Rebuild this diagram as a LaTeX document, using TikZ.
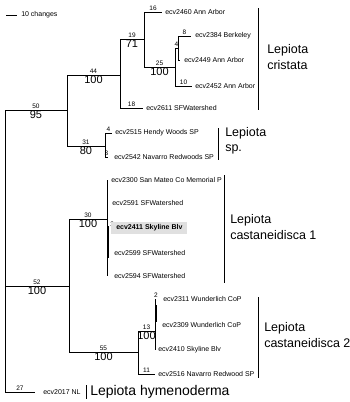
\documentclass[tikz,border=0pt]{standalone}
\usepackage{fontspec}
\setmainfont{Liberation Sans}
\usetikzlibrary{positioning}

\begin{document}
\begin{tikzpicture}[x=1pt, y=-1pt, line width=0.5pt,
    blen/.style={font=\fontsize{6.5}{7}\selectfont, inner sep=1pt},
    boot/.style={font=\fontsize{11}{12}\selectfont, inner sep=1pt},
    tip/.style={font=\fontsize{7}{8}\selectfont, inner sep=0pt},
    clade/.style={font=\fontsize{12.5}{15.5}\selectfont, align=left, anchor=west, inner sep=0pt},
    bar/.style={line width=0.7pt}]
    % Khung hình
    \useasboundingbox (0,0) rectangle (350,402);

    % 1. Thang đo
    \coordinate (s1) at (6,15);
    \coordinate (s2) at (17,15);
    \draw (s1) -- (s2);
    \node[tip, right=4pt of s2] (scale) {10 changes};

    % 2. Các nút trong của cây
    \coordinate (root) at (5,250);
    \coordinate (n50) at (67,110);
    \coordinate (n44) at (120,75);
    \coordinate (n19) at (144,39);
    \coordinate (n25) at (175,67);
    \coordinate (n4) at (178,48);
    \coordinate (n31) at (105,146);
    \coordinate (n52) at (69,286);
    \coordinate (n30) at (107,219);
    \coordinate (n55) at (138,352);
    \coordinate (n13) at (155,331);

    % 3. Các lá
    \coordinate (t16) at (162,12);
    \coordinate (t8) at (191,36);
    \coordinate (t0) at (180,60);
    \coordinate (t10) at (192,86);
    \coordinate (t18) at (143,108);
    \coordinate (tsp4) at (112,133);
    \coordinate (tsp3) at (108,157);
    \coordinate (c1a) at (107,180);
    \coordinate (c1b) at (107,203);
    \coordinate (c1c) at (109,228);
    \coordinate (c1d) at (108,253);
    \coordinate (c1e) at (107,276);
    \coordinate (c2a) at (156,299);
    \coordinate (c2b) at (155,325);
    \coordinate (c2c) at (155,350);
    \coordinate (t11) at (155,374);
    \coordinate (t27) at (35,392);

    % 4. Các nhánh
    \draw (root) |- (n50) node[pos=0.75, above, blen] {50} node[pos=0.75, below, boot] {95};
    \draw (root) |- (n52) node[pos=0.75, above, blen] {52} node[pos=0.75, below, boot] {100};
    \draw (root) |- (t27) node[pos=0.75, above, blen] {27};
    \draw (n50) |- (n44) node[pos=0.75, above, blen] {44} node[pos=0.75, below, boot] {100};
    \draw (n50) |- (n31) node[pos=0.75, above, blen] {31} node[pos=0.75, below, boot] {80};
    \draw (n44) |- (n19) node[pos=0.75, above, blen] {19} node[pos=0.75, below, boot] {71};
    \draw (n44) |- (t18) node[pos=0.75, above, blen] {18};
    \draw (n19) |- (t16) node[pos=0.75, above, blen] {16};
    \draw (n19) |- (n25) node[pos=0.75, above, blen] {25} node[pos=0.75, below, boot] {100};
    \draw (n25) |- (n4) node[pos=0.75, above, blen] {4};
    \draw (n25) |- (t10) node[pos=0.75, above, blen] {10};
    \draw (n4) |- (t8) node[pos=0.75, above, blen] {8};
    \draw (n4) |- (t0);
    \draw (n31) |- (tsp4) node[pos=0.75, above, blen] {4};
    \draw (n31) |- (tsp3) node[pos=0.75, above, blen] {3};
    \draw (n52) |- (n30) node[pos=0.75, above, blen] {30} node[pos=0.75, below, boot] {100};
    \draw (n52) |- (n55) node[pos=0.75, above, blen] {55} node[pos=0.75, below, boot] {100};
    \draw (n30) |- (c1a);
    \draw (n30) |- (c1b);
    \draw (n30) |- (c1c) node[pos=1, above right, blen] {2};
    \draw (n30) |- (c1d);
    \draw (n30) |- (c1e);
    \draw (n55) |- (n13) node[pos=0.75, above, blen] {13} node[pos=0.75, below, boot] {100};
    \draw (n55) |- (t11) node[pos=0.75, above, blen] {11};
    \draw (n13) |- (c2a) node[pos=1, above, blen] {2};
    \draw (n13) |- (c2b);
    \draw (n13) |- (c2c);
    \draw[line width=1.3pt] (108.5,226) -- (108.5,258);
    \draw[line width=1.2pt] (156,305) -- (156,322);

    % 5. Tên các mẫu
    \node[tip, right=3pt of t16] (l2460) {ecv2460 Ann Arbor};
    \node[tip, right=4pt of t8] (l2384) {ecv2384 Berkeley};
    \node[tip, right=4pt of t0] (l2449) {ecv2449 Ann Arbor};
    \node[tip, right=3pt of t10] (l2452) {ecv2452 Ann Arbor};
    \node[tip, right=3pt of t18] (l2611) {ecv2611 SFWatershed};
    \node[tip, right=3pt of tsp4] (l2515) {ecv2515 Hendy Woods SP};
    \node[tip, right=6pt of tsp3] (l2542) {ecv2542 Navarro Redwoods SP};
    \node[tip, right=4pt of c1a] (l2300) {ecv2300 San Mateo Co Memorial P};
    \node[tip, right=5pt of c1b] (l2591) {ecv2591 SFWatershed};
    \node[tip, right=2pt of c1c, fill=black!12, inner xsep=5pt, inner ysep=3pt,
        font=\fontsize{7}{8}\selectfont\bfseries] (l2411) {ecv2411 Skyline Blv};
    \node[tip, right=6pt of c1d] (l2599) {ecv2599 SFWatershed};
    \node[tip, right=7pt of c1e] (l2594) {ecv2594 SFWatershed};
    \node[tip, right=7pt of c2a] (l2311) {ecv2311 Wunderlich CoP};
    \node[tip, right=7pt of c2b] (l2309) {ecv2309 Wunderlich CoP};
    \node[tip, right=3pt of c2c] (l2410) {ecv2410 Skyline Blv};
    \node[tip, right=3pt of t11] (l2516) {ecv2516 Navarro Redwood SP};
    \node[tip, right=8pt of t27] (l2017) {ecv2017 NL};

    % 6. Vạch và tên các nhóm loài
    \draw[bar] (258,8) -- (258,110);
    \draw[bar] (218,128) -- (218,160);
    \draw[bar] (224,175) -- (224,283);
    \draw[bar] (258,297) -- (258,378);
    \draw[bar] (86,385) -- (86,399);
    \node[clade] (cristata) at (267,57) {Lepiota\\cristata};
    \node[clade] (sp) at (225,141) {Lepiota\\sp.};
    \node[clade] (cast1) at (230,227) {Lepiota\\castaneidisca 1};
    \node[clade] (cast2) at (264,335) {Lepiota\\castaneidisca 2};
    \node[clade, font=\fontsize{14}{16}\selectfont] (hymeno) at (90,392) {Lepiota hymenoderma};

\end{tikzpicture}
\end{document}
